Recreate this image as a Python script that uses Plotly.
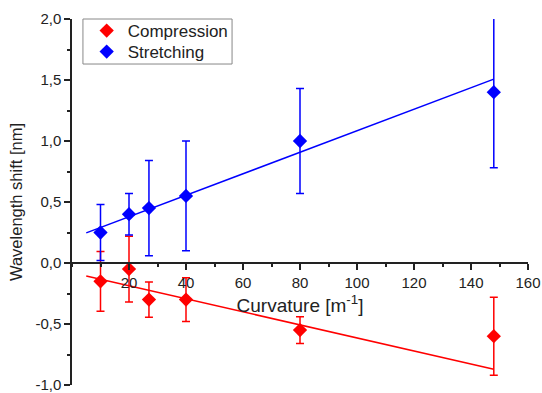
import plotly.graph_objects as go

# ---- data ----
curvature = [10, 20, 27, 40, 80, 148]

stretch_shift = [0.25, 0.40, 0.45, 0.55, 1.00, 1.40]
stretch_err = [0.23, 0.17, 0.39, 0.45, 0.43, 0.62]

compress_shift = [-0.15, -0.05, -0.30, -0.30, -0.55, -0.60]
compress_err = [0.245, 0.27, 0.145, 0.18, 0.11, 0.32]

fit_x = [5, 148]
stretch_fit = (0.203, 0.00881)    # intercept, slope
compress_fit = (-0.080, -0.00534)  # intercept, slope

x_tickvals = [20, 40, 60, 80, 100, 120, 140, 160]
x_ticktext = ["20", "40", "60", "80", "100", "120", "140", "160"]
y_tickvals = [-1.0, -0.5, 0.0, 0.5, 1.0, 1.5, 2.0]
y_ticktext = ["-1,0", "-0,5", "0,0", "0,5", "1,0", "1,5", "2,0"]

RED = "#FF0000"
BLUE = "#0000FF"
INK = "#222222"

fig = go.Figure()

# fit lines
fig.add_trace(go.Scatter(
    x=fit_x, y=[compress_fit[0] + compress_fit[1] * v for v in fit_x],
    mode="lines", line=dict(color=RED, width=1.5), showlegend=False, hoverinfo="skip"))
fig.add_trace(go.Scatter(
    x=fit_x, y=[stretch_fit[0] + stretch_fit[1] * v for v in fit_x],
    mode="lines", line=dict(color=BLUE, width=1.5), showlegend=False, hoverinfo="skip"))

# data points
fig.add_trace(go.Scatter(
    x=curvature, y=compress_shift, name="Compression", mode="markers", cliponaxis=False,
    marker=dict(symbol="diamond", size=11, color=RED), legend="legend",
    error_y=dict(type="data", array=compress_err, color=RED, thickness=1.5, width=4)))
fig.add_trace(go.Scatter(
    x=curvature, y=stretch_shift, name="Stretching", mode="markers", cliponaxis=False,
    marker=dict(symbol="diamond", size=11, color=BLUE), legend="legend2",
    error_y=dict(type="data", array=stretch_err, color=BLUE, thickness=1.5, width=4)))

axis_font = dict(family="Arial, Liberation Sans, sans-serif", size=15, color=INK)
legend_common = dict(xanchor="left", yanchor="top", borderwidth=0, bgcolor="rgba(0,0,0,0)",
                     font=dict(size=17, color=INK), itemwidth=32, tracegroupgap=0)

fig.update_layout(
    width=542, height=393,
    margin=dict(l=72, r=14, t=19, b=8),
    paper_bgcolor="white", plot_bgcolor="white",
    font=dict(family="Arial, Liberation Sans, sans-serif", color=INK),
    showlegend=True,
    legend=dict(x=0.03, y=1.0164, **legend_common),
    legend2=dict(x=0.03, y=0.959, **legend_common),
    shapes=[dict(type="rect", xref="paper", yref="paper",
                 x0=0.024, x1=0.351, y0=0.877, y1=1.0,
                 line=dict(color="#888888", width=1), layer="below")],
    xaxis=dict(
        range=[0, 160], anchor="free", position=1/3, automargin=False,
        showline=True, linecolor=INK, linewidth=1.5,
        ticks="outside", ticklen=6, tickwidth=1.5, tickcolor=INK,
        tickmode="array", tickvals=x_tickvals, ticktext=x_ticktext,
        tickfont=axis_font, showgrid=False, zeroline=False, ticklabeloverflow="allow",
        minor=dict(dtick=10, tick0=0, ticklen=3, tickwidth=1.5, tickcolor=INK, ticks="outside", showgrid=False),
        title=dict(text="Curvature [m<sup>-1</sup>]", font=dict(size=19, color=INK), standoff=8),
    ),
    yaxis=dict(
        range=[-1.0, 2.0], automargin=False,
        showline=True, linecolor=INK, linewidth=1.5,
        ticks="outside", ticklen=6, tickwidth=1.5, tickcolor=INK,
        tickmode="array", tickvals=y_tickvals, ticktext=y_ticktext,
        tickfont=axis_font, showgrid=False, zeroline=False, ticklabeloverflow="allow",
        minor=dict(dtick=0.25, tick0=0, ticklen=3, tickwidth=1.5, tickcolor=INK, ticks="outside", showgrid=False),
        title=dict(text="Wavelength shift [nm]", font=dict(size=16.5, color=INK), standoff=9),
    ),
)

fig.write_html("out.html")
